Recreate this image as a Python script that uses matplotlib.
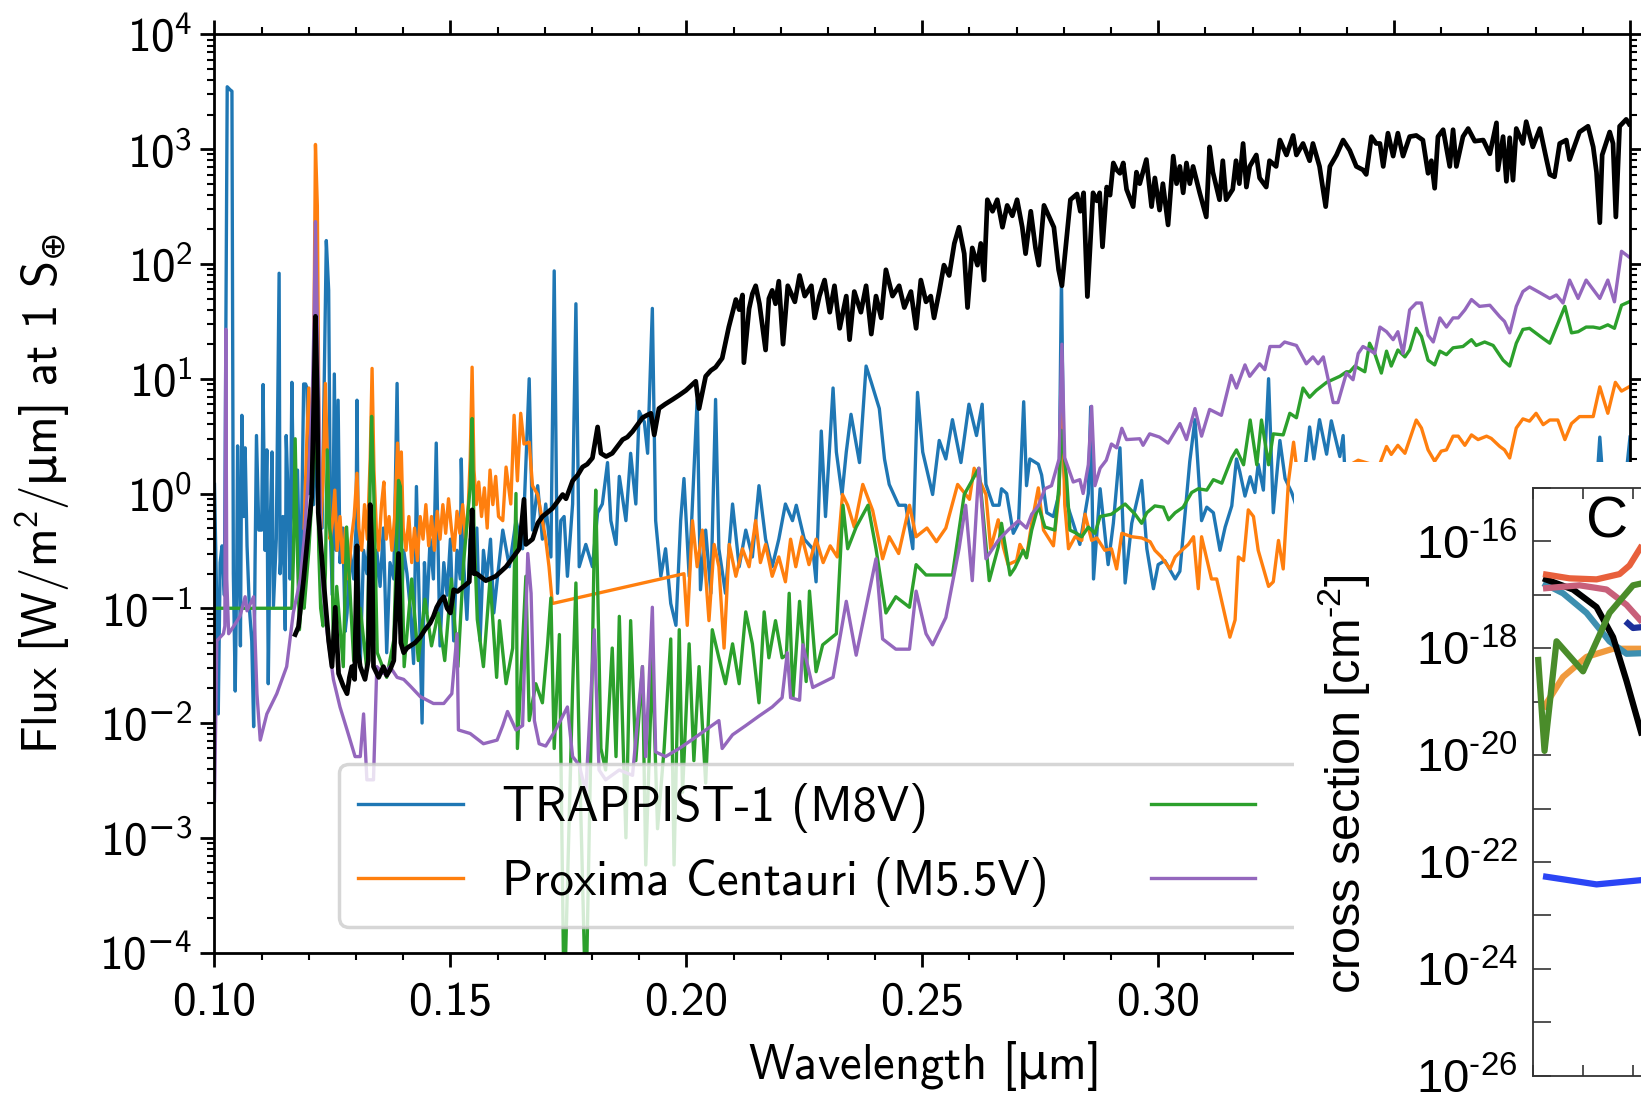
import matplotlib
matplotlib.use("Agg")
import numpy as np
import matplotlib.pyplot as plt
from matplotlib.ticker import (MultipleLocator, FormatStrFormatter, LogLocator, FuncFormatter,
                               NullFormatter, FixedLocator, FixedFormatter)

plt.rcParams["font.family"] = ["cmss10", "DejaVu Sans"]
plt.rcParams["mathtext.fontset"] = "custom"
plt.rcParams["mathtext.rm"] = "DejaVu Sans"
plt.rcParams["mathtext.it"] = "DejaVu Sans"
plt.rcParams["mathtext.fallback"] = "cm"

# ---- stellar spectra: (wavelength [um], flux [W/m2/um]) ----
trappist1 = [
    (0.1000, 1.2), (0.1005, 0.1), (0.1008, 0.012), (0.1012, 0.25), (0.1016, 0.35), (0.1021, 0.13),
    (0.1027, 3500), (0.1033, 3300), (0.1037, 3200), (0.1040, 0.2), (0.1044, 0.019), (0.1047, 0.18),
    (0.1049, 2.6), (0.1052, 0.4), (0.1055, 0.047), (0.1058, 4.8), (0.1062, 0.63), (0.1065, 2.5),
    (0.1069, 0.35), (0.1074, 0.1), (0.1079, 0.052), (0.1083, 0.0093), (0.1086, 0.25), (0.1089, 3.2),
    (0.1094, 0.48), (0.1100, 0.48), (0.1103, 8.9), (0.1107, 0.32), (0.1111, 2.4), (0.1114, 0.022),
    (0.1118, 0.5), (0.1122, 2.3), (0.1125, 0.105), (0.1131, 0.4), (0.1137, 83), (0.1139, 0.2),
    (0.1145, 0.63), (0.1150, 0.065), (0.1152, 3.2), (0.1158, 0.5), (0.1160, 0.18), (0.1164, 9.3),
    (0.1168, 0.63), (0.1171, 0.48), (0.1176, 1.6), (0.1182, 0.09), (0.1189, 9.0), (0.1193, 9.0),
    (0.1196, 8.3), (0.1200, 1.0), (0.1205, 3.2), (0.1210, 0.8), (0.1214, 2.0), (0.1220, 1.0),
    (0.1228, 0.5), (0.1237, 160), (0.1242, 59), (0.1246, 0.4), (0.1250, 0.13), (0.1254, 11),
    (0.1258, 0.32), (0.1262, 6.5), (0.1266, 0.25), (0.1272, 0.5), (0.1277, 0.063), (0.1281, 0.091),
    (0.1287, 0.32), (0.1295, 0.18), (0.1300, 0.5), (0.1302, 6.5), (0.1305, 0.25), (0.1309, 0.033),
    (0.1316, 0.32), (0.1323, 0.2), (0.1330, 0.63), (0.1337, 0.052), (0.1344, 0.32), (0.1351, 0.155),
    (0.1358, 0.5), (0.1365, 0.041), (0.1372, 0.25), (0.1380, 0.18), (0.1387, 9.1), (0.1391, 0.4),
    (0.1394, 0.06), (0.1401, 0.32), (0.1408, 0.2), (0.1415, 0.1), (0.1422, 0.033), (0.1428, 1.15),
    (0.1433, 0.16), (0.1440, 0.01), (0.1445, 0.25), (0.1450, 0.091), (0.1457, 0.4), (0.1464, 0.18),
    (0.1470, 2.75), (0.1474, 0.32), (0.1478, 0.047), (0.1486, 0.25), (0.1493, 0.13), (0.1500, 0.4),
    (0.1507, 0.052), (0.1514, 0.32), (0.1521, 0.18), (0.1523, 2.0), (0.1528, 0.25), (0.1535, 0.08),
    (0.1542, 0.4), (0.1549, 0.25), (0.1556, 0.5), (0.1563, 0.052), (0.1570, 0.32), (0.1577, 0.18),
    (0.1585, 0.4), (0.1592, 0.091), (0.1600, 0.19), (0.1611, 0.48), (0.1625, 0.23), (0.1639, 0.58),
    (0.1653, 0.33), (0.1667, 10), (0.1674, 0.48), (0.1685, 1.17), (0.1695, 0.4), (0.1702, 0.81),
    (0.1713, 0.28), (0.1720, 87), (0.1727, 0.135), (0.1734, 0.58), (0.1741, 0.63), (0.1748, 0.19),
    (0.1759, 0.81), (0.1766, 45), (0.1773, 0.23), (0.1787, 0.36), (0.1801, 0.23), (0.1812, 0.68),
    (0.1822, 0.81), (0.1833, 1.86), (0.1840, 0.58), (0.1851, 0.36), (0.1858, 1.41), (0.1872, 0.58),
    (0.1882, 2.24), (0.1893, 0.81), (0.1900, 5.2), (0.1911, 4.2), (0.1918, 2.24), (0.1928, 41),
    (0.1935, 0.58), (0.1946, 0.19), (0.1956, 0.33), (0.1967, 0.11), (0.1978, 0.071), (0.1988, 0.58),
    (0.1995, 1.35), (0.2006, 0.19), (0.2023, 6.6), (0.2030, 0.145), (0.2041, 0.48), (0.2052, 0.135),
    (0.2062, 6.6), (0.2069, 0.33), (0.2083, 0.135), (0.2098, 0.81), (0.2112, 0.23), (0.2126, 0.48),
    (0.2140, 0.28), (0.2154, 1.17), (0.2168, 0.4), (0.2182, 0.23), (0.2196, 0.4), (0.2210, 0.81),
    (0.2225, 0.58), (0.2233, 0.79), (0.2250, 0.4), (0.2268, 0.33), (0.2275, 0.17), (0.2286, 3.5),
    (0.2295, 0.63), (0.2311, 8.3), (0.2318, 2.3), (0.2330, 0.98), (0.2339, 2.3), (0.2349, 4.9),
    (0.2367, 1.86), (0.2381, 12.9), (0.2392, 9.3), (0.2409, 5.5), (0.2420, 2.0), (0.2430, 1.2),
    (0.2450, 0.79), (0.2465, 0.79), (0.2480, 0.33), (0.2490, 7.6), (0.2501, 2.3), (0.2522, 0.98),
    (0.2536, 2.9), (0.2550, 2.0), (0.2564, 4.4), (0.2582, 1.86), (0.2599, 6.0), (0.2615, 3.2),
    (0.2627, 6.0), (0.2635, 1.2), (0.2650, 0.79), (0.2663, 0.79), (0.2668, 1.1), (0.2679, 1.0),
    (0.2693, 0.45), (0.2704, 0.55), (0.2715, 6.3), (0.2721, 1.17), (0.2728, 2.0), (0.2746, 1.8),
    (0.2753, 1.45), (0.2764, 0.68), (0.2778, 0.63), (0.2790, 1.0), (0.2795, 76), (0.2800, 1.6),
    (0.2806, 0.83), (0.2820, 0.55), (0.2834, 0.36), (0.2852, 1.0), (0.2857, 5.7), (0.2863, 0.18),
    (0.2877, 1.1), (0.2894, 0.24), (0.2905, 0.55), (0.2919, 2.5), (0.2930, 0.166), (0.2944, 0.55),
    (0.2965, 1.3), (0.2976, 0.33), (0.2990, 0.148), (0.3000, 0.24), (0.3014, 0.26), (0.3036, 0.18),
    (0.3046, 0.21), (0.3067, 1.9), (0.3078, 4.4), (0.3092, 0.58), (0.3103, 0.76), (0.3117, 0.68),
    (0.3131, 0.32), (0.3142, 0.51), (0.3156, 0.78), (0.3166, 2.0), (0.3173, 1.55), (0.3184, 0.95),
    (0.3195, 1.4), (0.3205, 1.02), (0.3212, 1.8), (0.3223, 1.07), (0.3234, 10), (0.3244, 0.68),
    (0.3258, 2.9), (0.3269, 1.35), (0.3283, 1.02), (0.3300, 0.63), (0.3321, 3.8), (0.3330, 2.0),
    (0.3342, 4.4), (0.3357, 2.2), (0.3367, 4.3), (0.3385, 2.1), (0.3392, 3.2), (0.3399, 0.8),
    (0.3420, 0.5), (0.3925, 0.63), (0.3936, 3.1), (0.3948, 0.63), (0.3985, 0.8), (0.4000, 3.1),
]

proxima = [
    (0.1190, 0.5), (0.1196, 3.2), (0.1200, 8.3), (0.1205, 2.0), (0.1210, 10), (0.1214, 1100),
    (0.1218, 320), (0.1221, 6.3), (0.1225, 0.5), (0.1230, 1.26), (0.1235, 9.1), (0.1240, 1.6),
    (0.1245, 0.4), (0.1250, 0.56), (0.1255, 1.07), (0.1260, 0.32), (0.1266, 0.63), (0.1272, 0.25),
    (0.1278, 0.5), (0.1284, 0.18), (0.1290, 0.4), (0.1296, 0.63), (0.1302, 1.5), (0.1306, 0.5),
    (0.1312, 0.32), (0.1318, 0.8), (0.1324, 0.4), (0.1330, 2.0), (0.1334, 12.3), (0.1338, 1.6),
    (0.1343, 0.5), (0.1348, 0.32), (0.1354, 0.8), (0.1359, 1.26), (0.1364, 0.4), (0.1370, 0.63),
    (0.1376, 0.32), (0.1382, 0.63), (0.1388, 2.75), (0.1392, 1.26), (0.1396, 2.3), (0.1400, 0.5),
    (0.1406, 0.32), (0.1412, 0.63), (0.1418, 0.25), (0.1424, 0.5), (0.1430, 0.26), (0.1436, 0.63),
    (0.1442, 0.4), (0.1448, 0.8), (0.1454, 0.35), (0.1460, 0.63), (0.1466, 0.32), (0.1472, 0.7),
    (0.1478, 0.4), (0.1484, 0.8), (0.1490, 0.45), (0.1496, 0.9), (0.1502, 0.5), (0.1508, 0.32),
    (0.1514, 0.7), (0.1520, 0.45), (0.1526, 0.8), (0.1532, 0.4), (0.1538, 0.8), (0.1542, 2.0),
    (0.1546, 12.6), (0.1550, 1.6), (0.1555, 0.8), (0.1560, 1.26), (0.1566, 0.63), (0.1572, 1.12),
    (0.1578, 0.5), (0.1584, 1.6), (0.1590, 0.8), (0.1596, 1.41), (0.1602, 0.63), (0.1611, 0.58),
    (0.1618, 1.7), (0.1628, 0.81), (0.1635, 4.8), (0.1642, 1.29), (0.1649, 5.0), (0.1656, 2.7),
    (0.1667, 2.8), (0.1674, 1.17), (0.1685, 0.98), (0.1695, 0.58), (0.1702, 0.4), (0.1709, 0.23),
    (0.1716, 0.11), (0.1995, 0.2), (0.2002, 0.071), (0.2013, 0.58), (0.2023, 0.23), (0.2034, 0.48),
    (0.2048, 0.078), (0.2059, 0.36), (0.2069, 0.23), (0.2080, 0.045), (0.2091, 0.36), (0.2105, 0.19),
    (0.2119, 0.33), (0.2133, 0.23), (0.2147, 0.58), (0.2157, 0.25), (0.2168, 0.36), (0.2182, 0.19),
    (0.2196, 0.28), (0.2210, 0.17), (0.2221, 0.4), (0.2232, 0.23), (0.2245, 0.42), (0.2260, 0.24),
    (0.2275, 0.4), (0.2290, 0.25), (0.2305, 0.35), (0.2320, 0.28), (0.2331, 0.98), (0.2342, 0.79),
    (0.2356, 0.51), (0.2374, 1.2), (0.2395, 0.71), (0.2416, 0.27), (0.2430, 0.42), (0.2450, 0.3),
    (0.2473, 0.79), (0.2487, 0.42), (0.2510, 0.5), (0.2530, 0.38), (0.2550, 0.5), (0.2575, 1.2),
    (0.2600, 0.89), (0.2610, 1.66), (0.2635, 0.98), (0.2645, 0.33), (0.2661, 0.59), (0.2672, 0.34),
    (0.2682, 0.24), (0.2700, 0.26), (0.2707, 0.36), (0.2721, 0.28), (0.2732, 0.55), (0.2746, 1.12),
    (0.2757, 0.48), (0.2778, 0.35), (0.2790, 1.0), (0.2796, 10.5), (0.2802, 0.8), (0.2810, 0.33),
    (0.2824, 0.42), (0.2838, 0.39), (0.2845, 0.66), (0.2859, 0.39), (0.2870, 0.41), (0.2887, 0.32),
    (0.2901, 0.33), (0.2912, 0.22), (0.2923, 0.45), (0.2944, 0.42), (0.2965, 0.41), (0.2983, 0.38),
    (0.2993, 0.32), (0.3007, 0.28), (0.3025, 0.22), (0.3036, 0.28), (0.3050, 0.32), (0.3064, 0.36),
    (0.3075, 0.42), (0.3085, 0.148), (0.3092, 0.42), (0.3113, 0.18), (0.3124, 0.18), (0.3152, 0.056),
    (0.3163, 0.079), (0.3170, 0.28), (0.3181, 0.26), (0.3191, 0.72), (0.3202, 0.63), (0.3212, 0.32),
    (0.3234, 0.155), (0.3244, 0.17), (0.3255, 0.39), (0.3265, 0.22), (0.3276, 1.26), (0.3287, 2.8),
    (0.3300, 1.0), (0.3424, 1.95), (0.3448, 1.82), (0.3470, 1.82), (0.3484, 2.57), (0.3494, 2.19),
    (0.3508, 2.63), (0.3523, 2.24), (0.3547, 4.37), (0.3558, 3.72), (0.3572, 2.4), (0.3586, 1.91),
    (0.3600, 2.34), (0.3611, 2.4), (0.3625, 3.16), (0.3636, 3.16), (0.3650, 2.63), (0.3664, 3.24),
    (0.3678, 2.95), (0.3696, 3.16), (0.3706, 3.02), (0.3724, 2.57), (0.3734, 2.4), (0.3745, 2.04),
    (0.3759, 3.72), (0.3773, 4.47), (0.3787, 4.27), (0.3801, 5.0), (0.3816, 3.98), (0.3830, 4.37),
    (0.3847, 4.37), (0.3862, 2.95), (0.3876, 4.07), (0.3893, 4.68), (0.3922, 4.68), (0.3936, 8.5),
    (0.3953, 5.0), (0.3969, 9.3), (0.3982, 7.8), (0.3998, 8.5),
]

gj876 = [
    (0.1000, 0.1), (0.1164, 0.1), (0.1167, 0.25), (0.1171, 3.0), (0.1175, 0.4), (0.1180, 0.065),
    (0.1185, 0.126), (0.1190, 0.1), (0.1200, 0.32), (0.1207, 1.0), (0.1211, 2.0), (0.1214, 3.7),
    (0.1218, 2.0), (0.1221, 0.32), (0.1225, 0.1), (0.1230, 0.07), (0.1235, 0.2), (0.1239, 2.4),
    (0.1244, 0.5), (0.1249, 0.35), (0.1252, 0.041), (0.1259, 0.155), (0.1273, 0.031), (0.1280, 0.51),
    (0.1295, 0.035), (0.1309, 0.1), (0.1323, 0.029), (0.1330, 1.3), (0.1333, 4.7), (0.1337, 1.3),
    (0.1345, 0.041), (0.1365, 0.025), (0.1380, 0.053), (0.1390, 1.3), (0.1394, 1.15), (0.1402, 0.031),
    (0.1418, 0.18), (0.1432, 0.035), (0.1446, 0.12), (0.1460, 0.047), (0.1474, 0.091), (0.1488, 0.035),
    (0.1502, 0.18), (0.1516, 0.031), (0.1528, 0.25), (0.1542, 1.15), (0.1546, 4.5), (0.1550, 0.5),
    (0.1557, 0.08), (0.1570, 0.031), (0.1584, 0.18), (0.1598, 0.025), (0.1604, 0.078), (0.1618, 0.022),
    (0.1632, 0.045), (0.1639, 1.0), (0.1642, 0.006), (0.1653, 0.049), (0.1660, 0.19), (0.1667, 0.0105),
    (0.1681, 0.022), (0.1695, 0.015), (0.1706, 0.049), (0.1713, 0.123), (0.1720, 0.006), (0.1731, 0.059),
    (0.1741, 0.00003), (0.1759, 0.02), (0.1766, 0.166), (0.1773, 0.006), (0.1787, 0.00003),
    (0.1798, 0.0072), (0.1805, 0.4), (0.1808, 1.07), (0.1819, 0.006), (0.1829, 0.0039), (0.1843, 0.045),
    (0.1851, 0.0051), (0.1858, 0.085), (0.1872, 0.001), (0.1882, 0.078), (0.1893, 0.0047),
    (0.1907, 0.031), (0.1914, 0.00058), (0.1928, 0.037), (0.1939, 0.0012), (0.1953, 0.006),
    (0.1967, 0.054), (0.1974, 0.00058), (0.1985, 0.065), (0.1992, 0.0025), (0.2006, 0.049),
    (0.2016, 0.0047), (0.2027, 0.031), (0.2041, 0.003), (0.2055, 0.065), (0.2069, 0.037),
    (0.2083, 0.022), (0.2098, 0.049), (0.2112, 0.022), (0.2126, 0.093), (0.2140, 0.049), (0.2154, 0.015),
    (0.2165, 0.093), (0.2175, 0.037), (0.2189, 0.078), (0.2203, 0.037), (0.2212, 0.039), (0.2218, 0.135),
    (0.2226, 0.0166), (0.2240, 0.115), (0.2254, 0.023), (0.2261, 0.141), (0.2275, 0.028), (0.2289, 0.048),
    (0.2318, 0.06), (0.2332, 0.79), (0.2342, 0.33), (0.2360, 0.51), (0.2385, 0.79), (0.2402, 0.33),
    (0.2423, 0.091), (0.2444, 0.126), (0.2473, 0.102), (0.2487, 0.24), (0.2508, 0.195), (0.2529, 0.195),
    (0.2564, 0.195), (0.2589, 0.98), (0.2620, 1.66), (0.2642, 0.174), (0.2661, 0.34), (0.2668, 0.55),
    (0.2686, 0.195), (0.2696, 0.224), (0.2714, 0.32), (0.2721, 0.275), (0.2732, 0.48), (0.2746, 0.78),
    (0.2760, 0.51), (0.2781, 0.48), (0.2790, 1.2), (0.2795, 3.55), (0.2806, 1.35), (0.2813, 0.48),
    (0.2827, 0.45), (0.2838, 0.42), (0.2852, 0.51), (0.2866, 0.45), (0.2877, 0.63), (0.2901, 0.66),
    (0.2930, 0.81), (0.2951, 0.66), (0.2965, 0.55), (0.2976, 0.68), (0.2993, 0.78), (0.3011, 0.76),
    (0.3022, 0.59), (0.3036, 0.68), (0.3053, 0.76), (0.3071, 1.02), (0.3085, 1.1), (0.3103, 1.07),
    (0.3117, 1.32), (0.3135, 1.23), (0.3156, 2.04), (0.3166, 2.4), (0.3181, 1.78), (0.3195, 4.37),
    (0.3209, 1.78), (0.3219, 4.37), (0.3234, 1.78), (0.3244, 3.31), (0.3265, 3.24), (0.3279, 5.0),
    (0.3293, 4.57), (0.3307, 8.3), (0.3321, 6.9), (0.3335, 7.9), (0.3357, 9.3), (0.3385, 10.5),
    (0.3399, 11.5), (0.3406, 11.5), (0.3417, 12.9), (0.3438, 11.5), (0.3448, 20.4), (0.3459, 16.6),
    (0.3473, 11.2), (0.3484, 17.4), (0.3494, 12.9), (0.3508, 17.8), (0.3523, 15.5), (0.3533, 17.8),
    (0.3547, 27.5), (0.3558, 23.4), (0.3572, 14.5), (0.3586, 13.2), (0.3597, 17.4), (0.3611, 16.2),
    (0.3625, 18.6), (0.3646, 19.1), (0.3664, 21.9), (0.3674, 19.5), (0.3692, 20.9), (0.3710, 19.5),
    (0.3731, 14.5), (0.3745, 12.9), (0.3759, 20.4), (0.3773, 26.9), (0.3787, 27.5), (0.3816, 22.4),
    (0.3830, 20.4), (0.3862, 42.7), (0.3876, 25.1), (0.3890, 25.7), (0.3907, 28.2), (0.3922, 28.2),
    (0.3936, 27.5), (0.3953, 29.5), (0.3967, 27.5), (0.3982, 43.7), (0.3998, 46.8),
]

gj581 = [
    (0.1000, 0.0021), (0.1005, 0.052), (0.1019, 0.06), (0.1022, 0.07), (0.1024, 27), (0.1026, 0.18),
    (0.1030, 0.06), (0.1040, 0.069), (0.1054, 0.085), (0.1065, 0.126), (0.1069, 0.095), (0.1083, 0.126),
    (0.1090, 0.018), (0.1097, 0.0071), (0.1111, 0.012), (0.1132, 0.018), (0.1153, 0.031), (0.1167, 0.091),
    (0.1182, 0.18), (0.1190, 0.4), (0.1200, 1.6), (0.1207, 6.3), (0.1211, 32), (0.1214, 234),
    (0.1218, 32), (0.1222, 3.2), (0.1225, 0.5), (0.1228, 0.18), (0.1238, 0.065), (0.1252, 0.024),
    (0.1266, 0.0138), (0.1281, 0.0087), (0.1298, 0.0051), (0.1309, 0.0051), (0.1316, 0.012),
    (0.1323, 0.0032), (0.1337, 0.0032), (0.1344, 0.031), (0.1358, 0.027), (0.1372, 0.031),
    (0.1387, 0.025), (0.1401, 0.024), (0.1415, 0.021), (0.1436, 0.017), (0.1464, 0.0148),
    (0.1486, 0.0148), (0.1503, 0.018), (0.1514, 0.06), (0.1517, 0.0087), (0.1542, 0.0081),
    (0.1570, 0.0066), (0.1599, 0.0071), (0.1611, 0.0095), (0.1621, 0.0126), (0.1639, 0.0087),
    (0.1653, 0.0095), (0.1664, 0.3), (0.1671, 0.135), (0.1678, 0.0105), (0.1688, 0.0066),
    (0.1702, 0.0063), (0.1723, 0.0087), (0.1748, 0.0138), (0.1759, 0.0051), (0.1773, 0.0043),
    (0.1787, 0.0025), (0.1805, 0.065), (0.1815, 0.0039), (0.1829, 0.0032), (0.1858, 0.0039),
    (0.1886, 0.0035), (0.1907, 0.031), (0.1914, 0.0051), (0.1928, 0.102), (0.1935, 0.0056),
    (0.1956, 0.0051), (0.1985, 0.006), (0.2013, 0.0072), (0.2041, 0.0087), (0.2069, 0.0105),
    (0.2076, 0.006), (0.2098, 0.0079), (0.2126, 0.0095), (0.2154, 0.0115), (0.2182, 0.0138),
    (0.2203, 0.0166), (0.2214, 0.041), (0.2221, 0.0166), (0.2240, 0.0158), (0.2247, 0.048),
    (0.2268, 0.0204), (0.2311, 0.025), (0.2339, 0.115), (0.2360, 0.039), (0.2388, 0.141), (0.2402, 0.27),
    (0.2416, 0.054), (0.2444, 0.044), (0.2473, 0.044), (0.2487, 0.141), (0.2508, 0.06), (0.2522, 0.048),
    (0.2550, 0.083), (0.2578, 0.33), (0.2592, 0.79), (0.2606, 0.174), (0.2620, 1.66), (0.2635, 0.27),
    (0.2661, 0.39), (0.2682, 0.48), (0.2704, 0.58), (0.2721, 0.5), (0.2732, 0.66), (0.2746, 0.78),
    (0.2760, 1.1), (0.2774, 1.17), (0.2790, 2.0), (0.2796, 20), (0.2802, 2.04), (0.2820, 1.26),
    (0.2834, 1.32), (0.2841, 1.0), (0.2852, 1.78), (0.2859, 5.75), (0.2866, 1.17), (0.2877, 1.66),
    (0.2890, 1.95), (0.2901, 2.7), (0.2912, 2.5), (0.2923, 3.7), (0.2933, 2.95), (0.2961, 3.0),
    (0.2968, 2.63), (0.2982, 3.31), (0.3003, 3.1), (0.3021, 2.75), (0.3046, 4.07), (0.3060, 2.95),
    (0.3078, 5.5), (0.3092, 3.16), (0.3109, 5.4), (0.3134, 4.8), (0.3155, 10.7), (0.3166, 8.3),
    (0.3184, 13.2), (0.3194, 10.5), (0.3215, 13.5), (0.3226, 12.0), (0.3237, 19.1), (0.3258, 19.1),
    (0.3268, 20.9), (0.3293, 19.5), (0.3314, 13.5), (0.3328, 15.5), (0.3339, 13.5), (0.3350, 15.5),
    (0.3371, 6.2), (0.3381, 6.2), (0.3399, 11.2), (0.3413, 9.8), (0.3424, 16.6), (0.3434, 19.1),
    (0.3448, 17.8), (0.3459, 16.6), (0.3470, 28.2), (0.3484, 25.7), (0.3498, 21.9), (0.3508, 25.7),
    (0.3519, 16.6), (0.3533, 39.8), (0.3547, 45.7), (0.3558, 45.7), (0.3572, 24.0), (0.3583, 20.9),
    (0.3597, 33.9), (0.3611, 28.2), (0.3625, 33.9), (0.3636, 33.9), (0.3650, 39.8), (0.3664, 49.0),
    (0.3681, 42.7), (0.3703, 43.7), (0.3724, 34.7), (0.3734, 31.6), (0.3745, 25.1), (0.3759, 42.7),
    (0.3773, 57.5), (0.3787, 63.1), (0.3809, 56.2), (0.3830, 50.1), (0.3844, 53.7), (0.3858, 45.7),
    (0.3872, 72.4), (0.3890, 50.1), (0.3907, 72.4), (0.3936, 50.1), (0.3953, 72.4), (0.3967, 46.8),
    (0.3982, 129), (0.3998, 115),
]

sun = [
    (0.1171, 0.059), (0.1178, 0.069), (0.1189, 0.18), (0.1199, 0.48), (0.1206, 0.93), (0.1211, 8),
    (0.1214, 35), (0.1218, 6.3), (0.1220, 0.68), (0.1231, 0.18), (0.1242, 0.052), (0.1249, 0.031),
    (0.1256, 0.102), (0.1263, 0.027), (0.1273, 0.021), (0.1281, 0.018), (0.1286, 0.025), (0.1291, 0.031),
    (0.1297, 0.024), (0.1302, 0.35), (0.1305, 0.04), (0.1309, 0.031), (0.1319, 0.024), (0.1326, 0.035),
    (0.1330, 0.8), (0.1334, 0.3), (0.1337, 0.031), (0.1348, 0.025), (0.1358, 0.031), (0.1365, 0.026),
    (0.1372, 0.029), (0.1380, 0.035), (0.1390, 0.3), (0.1395, 0.05), (0.1401, 0.041), (0.1408, 0.045),
    (0.1415, 0.047), (0.1425, 0.05), (0.1436, 0.056), (0.1446, 0.065), (0.1457, 0.074), (0.1464, 0.085),
    (0.1471, 0.102), (0.1478, 0.115), (0.1486, 0.126), (0.1493, 0.1), (0.1500, 0.091), (0.1507, 0.145),
    (0.1515, 0.14), (0.1528, 0.155), (0.1540, 0.17), (0.1546, 0.72), (0.1550, 0.2), (0.1556, 0.2),
    (0.1575, 0.174), (0.1596, 0.19), (0.1618, 0.23), (0.1632, 0.275), (0.1646, 0.33), (0.1656, 0.89),
    (0.1660, 0.36), (0.1674, 0.4), (0.1685, 0.55), (0.1695, 0.63), (0.1705, 0.68), (0.1716, 0.74),
    (0.1727, 0.85), (0.1738, 0.98), (0.1745, 0.9), (0.1759, 1.29), (0.1770, 1.45), (0.1780, 1.7),
    (0.1790, 1.8), (0.1801, 2.04), (0.1812, 3.8), (0.1819, 2.24), (0.1830, 2.1), (0.1843, 2.24),
    (0.1855, 2.6), (0.1865, 2.95), (0.1875, 3.1), (0.1886, 3.47), (0.1897, 4.0), (0.1907, 4.57),
    (0.1916, 4.8), (0.1925, 5.0), (0.1932, 3.24), (0.1942, 5.5), (0.1955, 6.0), (0.1971, 6.6),
    (0.1985, 7.2), (0.1999, 7.9), (0.2010, 8.7), (0.2020, 9.5), (0.2027, 5.5), (0.2041, 10.5),
    (0.2052, 11.8), (0.2062, 12.6), (0.2076, 15.1), (0.2090, 28.2), (0.2098, 38), (0.2105, 49),
    (0.2112, 40), (0.2119, 53.7), (0.2122, 13.8), (0.2133, 40.7), (0.2140, 55), (0.2147, 64.6),
    (0.2155, 45), (0.2168, 17.8), (0.2175, 50), (0.2182, 58.9), (0.2189, 45), (0.2196, 70.8),
    (0.2205, 20), (0.2215, 64.6), (0.2230, 46.8), (0.2240, 79.4), (0.2251, 52.5), (0.2265, 64.6),
    (0.2272, 33.9), (0.2282, 52.5), (0.2293, 72.4), (0.2304, 38), (0.2314, 64.6), (0.2325, 27.5),
    (0.2339, 52.5), (0.2346, 21.9), (0.2356, 57.5), (0.2370, 38), (0.2381, 64.6), (0.2392, 24.5),
    (0.2402, 52.5), (0.2413, 33.9), (0.2423, 89), (0.2437, 52.5), (0.2451, 64.6), (0.2462, 41.7),
    (0.2476, 57.5), (0.2487, 27.5), (0.2497, 72.4), (0.2508, 46.8), (0.2518, 52.5), (0.2525, 33.9),
    (0.2536, 57.5), (0.2546, 97.7), (0.2557, 79.4), (0.2568, 151), (0.2578, 209), (0.2589, 123),
    (0.2596, 41.7), (0.2606, 138), (0.2617, 97.7), (0.2624, 151), (0.2631, 72.4), (0.2638, 363),
    (0.2649, 288), (0.2659, 363), (0.2670, 209), (0.2680, 324), (0.2691, 263), (0.2701, 363),
    (0.2712, 209), (0.2719, 123), (0.2730, 288), (0.2740, 138), (0.2747, 97.7), (0.2758, 324),
    (0.2768, 263), (0.2779, 209), (0.2789, 89), (0.2796, 64.6), (0.2804, 138), (0.2814, 363),
    (0.2828, 407), (0.2835, 288), (0.2842, 417), (0.2850, 52), (0.2862, 417), (0.2870, 355),
    (0.2876, 417), (0.2882, 141), (0.2891, 468), (0.2898, 398), (0.2905, 759), (0.2912, 661),
    (0.2919, 617), (0.2926, 759), (0.2933, 447), (0.2947, 316), (0.2954, 631), (0.2961, 501),
    (0.2975, 813), (0.2986, 316), (0.2993, 562), (0.3003, 295), (0.3010, 501), (0.3021, 219),
    (0.3032, 871), (0.3039, 501), (0.3046, 708), (0.3053, 417), (0.3060, 759), (0.3067, 501),
    (0.3074, 708), (0.3088, 417), (0.3102, 257), (0.3109, 1047), (0.3116, 631), (0.3130, 363),
    (0.3137, 794), (0.3144, 363), (0.3158, 447), (0.3165, 794), (0.3172, 501), (0.3180, 1122),
    (0.3187, 468), (0.3194, 708), (0.3208, 891), (0.3215, 562), (0.3229, 468), (0.3236, 794),
    (0.3250, 708), (0.3258, 1202), (0.3272, 891), (0.3286, 1318), (0.3293, 891), (0.3307, 1122),
    (0.3321, 794), (0.3328, 1122), (0.3342, 708), (0.3355, 316), (0.3364, 708), (0.3378, 891),
    (0.3392, 1202), (0.3406, 977), (0.3420, 708), (0.3434, 661), (0.3441, 603), (0.3452, 1288),
    (0.3462, 1122), (0.3470, 1122), (0.3477, 708), (0.3487, 1380), (0.3498, 871), (0.3508, 1380),
    (0.3519, 871), (0.3533, 1288), (0.3547, 1318), (0.3561, 1202), (0.3572, 617), (0.3579, 794),
    (0.3586, 457), (0.3593, 1288), (0.3604, 1479), (0.3618, 708), (0.3625, 1479), (0.3632, 708),
    (0.3646, 1288), (0.3657, 1514), (0.3671, 1175), (0.3689, 1202), (0.3703, 912), (0.3717, 1698),
    (0.3720, 661), (0.3731, 1288), (0.3738, 525), (0.3745, 1259), (0.3752, 537), (0.3759, 1514),
    (0.3773, 1122), (0.3780, 1738), (0.3794, 1047), (0.3809, 1514), (0.3823, 813), (0.3830, 603),
    (0.3840, 575), (0.3851, 1122), (0.3865, 1202), (0.3872, 813), (0.3893, 1413), (0.3911, 1585),
    (0.3922, 1047), (0.3929, 631), (0.3936, 229), (0.3941, 891), (0.3957, 1413), (0.3964, 1122),
    (0.3970, 257), (0.3978, 1585), (0.3992, 1820), (0.3998, 1660),
]

star_labels = ["TRAPPIST-1 (M8V)", "Proxima Centauri (M5.5V)", "GJ 876 (M4V)", "GJ 581 (M3V)", "Sun (G2V)"]
star_colors = ["#1f77b4", "#ff7f0e", "#2ca02c", "#9467bd", "black"]

# ---- pasted cross-section panel (only its left edge is in frame) ----
cs_red = [(0.2, 2.45e-17), (0.73, 2.04e-17), (1.27, 1.95e-17), (1.73, 2.45e-17), (1.93, 3.55e-17), (2.2, 9.1e-17)]
cs_pink = [(0.2, 1.32e-17), (0.93, 1.51e-17), (1.47, 1.26e-17), (1.87, 6.5e-18), (2.2, 2.95e-18)]
cs_teal = [(0.2, 1.66e-17), (0.6, 1.07e-17), (1.07, 4.6e-18), (1.53, 1.35e-18), (1.87, 7.9e-19), (2.2, 8.1e-19)]
cs_black = [(0.2, 2.04e-17), (0.8, 1.26e-17), (1.27, 5.9e-18), (1.6, 1.62e-18), (1.87, 2.45e-19), (2.2, 2.0e-20)]
cs_navy = [(1.85, 3.2e-18), (2.0, 2.4e-18), (2.2, 2.5e-18)]
cs_green = [(0.1, 6.9e-19), (0.23, 1.2e-20), (0.47, 1.35e-18), (1.0, 3.7e-19), (1.53, 4.6e-18), (2.0, 1.51e-17), (2.2, 1.66e-17)]
cs_orange = [(0.2, 7.4e-20), (0.6, 2.9e-19), (1.07, 6.9e-19), (1.6, 9.8e-19), (2.2, 9.8e-19)]
cs_blue = [(0.2, 5.4e-23), (1.27, 3.8e-23), (2.2, 4.6e-23)]
cs_decades = [1e-26, 1e-25, 1e-24, 1e-23, 1e-22, 1e-21, 1e-20, 1e-19, 1e-18, 1e-17, 1e-16, 1e-15]
cs_ticklabels = ["$\\mathregular{10^{\u201026}}$", "", "$\\mathregular{10^{\u201024}}$", "",
                 "$\\mathregular{10^{\u201022}}$", "", "$\\mathregular{10^{\u201020}}$", "",
                 "$\\mathregular{10^{\u201018}}$", "", "$\\mathregular{10^{\u201016}}$", ""]


def decade_label(v, pos):
    e = int(round(np.log10(v)))
    if e < 0:
        return r"$\mathdefault{10}^{-\mathdefault{%d}}$" % -e
    return r"$\mathdefault{10}^{\mathdefault{%d}}$" % e


fig = plt.figure(figsize=(16.41, 10.94), dpi=100)
ax = fig.add_axes([0.1307, 0.1293, 0.8626, 0.8392])

for data, color, label in zip([trappist1, proxima, gj876, gj581], star_colors[:4], star_labels[:4]):
    wl, fx = zip(*data)
    ax.plot(wl, fx, color=color, lw=2.4, label=label)
wl, fx = zip(*sun)
ax.plot(wl, fx, color=star_colors[4], lw=3.4, label=star_labels[4])

ax.set_yscale("log")
ax.set_xlim(0.1, 0.4)
ax.set_ylim(1e-4, 1e4)
ax.xaxis.set_major_locator(MultipleLocator(0.05))
ax.xaxis.set_minor_locator(MultipleLocator(0.01))
ax.xaxis.set_major_formatter(FormatStrFormatter("%.2f"))
ax.yaxis.set_major_locator(LogLocator(base=10, numticks=20))
ax.yaxis.set_major_formatter(FuncFormatter(decade_label))
ax.yaxis.set_minor_locator(LogLocator(base=10, subs=range(2, 10), numticks=200))
ax.yaxis.set_minor_formatter(NullFormatter())
ax.tick_params(which="both", direction="out", top=True, right=True)
ax.tick_params(which="major", length=10, width=2, labelsize=34)
ax.tick_params(axis="x", which="major", pad=11)
ax.tick_params(axis="y", which="major", pad=6)
ax.tick_params(which="minor", length=5, width=1.5)
for s in ax.spines.values():
    s.set_linewidth(2)

ax.set_xlabel(r"Wavelength [$\mu$m]", fontsize=35, labelpad=11)
ax.set_ylabel(r"Flux [W/m$^{\mathdefault{2}}$/$\mu$m] at 1 S$_{\oplus}$", fontsize=35, labelpad=20)

leg = ax.legend(ncol=3, loc="lower left", bbox_to_anchor=(0.088, 0.028), borderaxespad=0,
                fontsize=35, handlelength=2.15, columnspacing=2.1, framealpha=0.8)
leg.get_frame().set_linewidth(2.5)

# white cut-out of the overlaid panel
cover = fig.add_axes([0.7885, 0.0, 0.2115, 0.5773])
cover.set_facecolor("white")
cover.set_xticks([])
cover.set_yticks([])
for s in cover.spines.values():
    s.set_visible(False)

cx = fig.add_axes([0.9342, 0.0168, 0.3047, 0.5371])
for data, color in [(cs_blue, "#2b45f5"), (cs_orange, "#f09a3e"), (cs_teal, "#3d8fb0"),
                    (cs_black, "black"), (cs_pink, "#c8607a"), (cs_navy, "#1c2f9a"),
                    (cs_green, "#4a8c2a"), (cs_red, "#e8603c")]:
    x, y = zip(*data)
    cx.plot(x, y, color=color, lw=4.5, solid_capstyle="butt")
cx.set_yscale("log")
cx.set_ylim(1e-26, 1e-15)
cx.set_xlim(0, 10)
cx.yaxis.set_major_locator(FixedLocator(cs_decades))
cx.yaxis.set_major_formatter(FixedFormatter(cs_ticklabels))
cx.yaxis.set_minor_locator(FixedLocator([]))
cx.set_xticks(range(0, 11))
cx.tick_params(which="both", direction="in", top=True, right=True, labelbottom=False,
               color="#333333", width=1.2)
cx.tick_params(axis="y", length=13, labelsize=34, pad=11, labelfontfamily="Liberation Sans")
cx.tick_params(axis="x", length=8)
for s in cx.spines.values():
    s.set_linewidth(1.3)
    s.set_color("#333333")

fig.text(1344 / 1641, 1 - 784 / 1094, "cross section [cm$\\mathregular{^{\u20102}}$]", rotation=90,
         ha="center", va="center", fontsize=35, family="Liberation Sans")
fig.text(1607 / 1641, 1 - 523 / 1094, "C", ha="center", va="center", fontsize=42,
         family="Liberation Sans")

fig.savefig("out.png", dpi=100)
